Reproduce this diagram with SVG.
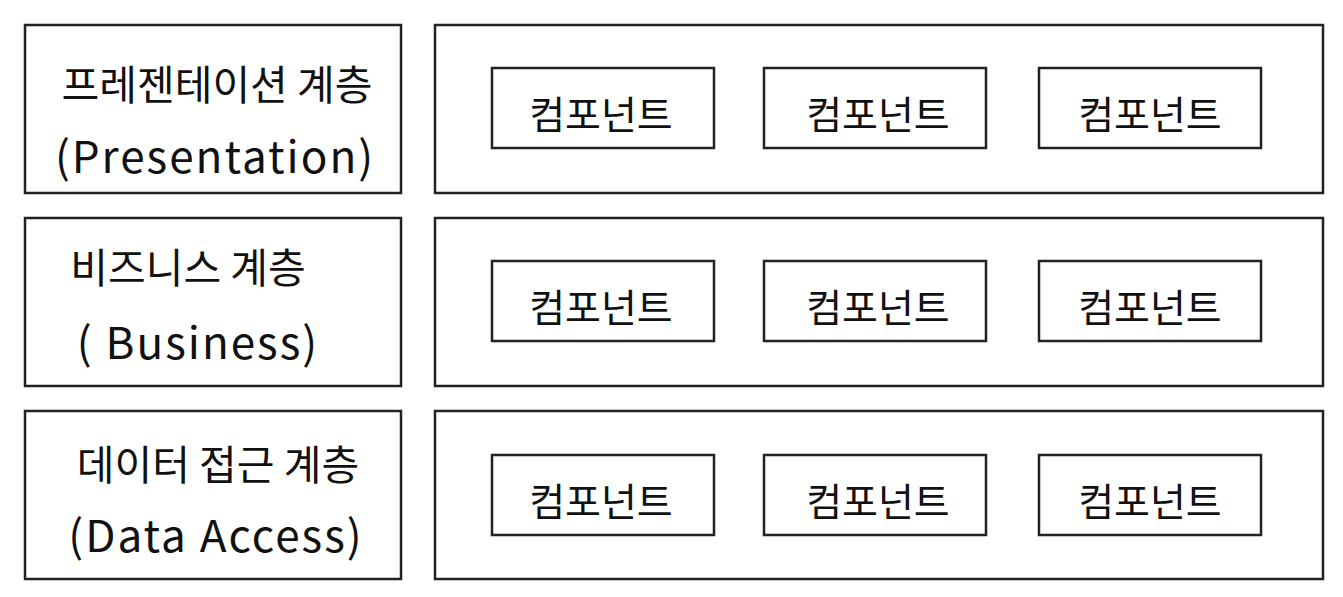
<svg xmlns="http://www.w3.org/2000/svg" width="1343" height="597" viewBox="0 0 1343 597">
<style>
.box{fill:#fff;stroke:#222;stroke-width:2.5}
.t{font-family:"Noto Sans CJK KR","Noto Sans",sans-serif;fill:#111;text-anchor:middle;dominant-baseline:central}
.k{font-size:41px}
.e{font-size:44px;letter-spacing:2px}
.c{font-size:39px}
</style>
<rect width="1343" height="597" fill="#fff"/>
<g id="layer-presentation">
<rect class="box" x="25" y="25" width="376" height="168"/>
<text class="t k" x="217" y="82">프레젠테이션 계층</text>
<text class="t e" x="215" y="154">(Presentation)</text>
</g>
<g id="layer-business">
<rect class="box" x="25" y="218" width="376" height="168"/>
<text class="t k" x="188" y="265">비즈니스 계층</text>
<text class="t e" x="198" y="340">( Business)</text>
</g>
<g id="layer-data">
<rect class="box" x="25" y="411" width="376" height="168"/>
<text class="t k" x="218" y="462">데이터 접근 계층</text>
<text class="t e" x="216" y="533">(Data  Access)</text>
</g>
<g id="row-presentation">
<rect class="box" x="435" y="25" width="888" height="168"/>
</g>
<g id="row-business">
<rect class="box" x="435" y="218" width="888" height="168"/>
</g>
<g id="row-data">
<rect class="box" x="435" y="411" width="888" height="168"/>
</g>
<g id="comp-1-1"><rect class="box" x="492" y="68" width="222" height="80"/><text class="t c" x="601" y="112">컴포넌트</text></g>
<g id="comp-1-2"><rect class="box" x="764" y="68" width="222" height="80"/><text class="t c" x="878" y="112">컴포넌트</text></g>
<g id="comp-1-3"><rect class="box" x="1039" y="68" width="222" height="80"/><text class="t c" x="1150" y="112">컴포넌트</text></g>
<g id="comp-2-1"><rect class="box" x="492" y="261" width="222" height="80"/><text class="t c" x="601" y="305">컴포넌트</text></g>
<g id="comp-2-2"><rect class="box" x="764" y="261" width="222" height="80"/><text class="t c" x="878" y="305">컴포넌트</text></g>
<g id="comp-2-3"><rect class="box" x="1039" y="261" width="222" height="80"/><text class="t c" x="1150" y="305">컴포넌트</text></g>
<g id="comp-3-1"><rect class="box" x="492" y="455" width="222" height="80"/><text class="t c" x="601" y="499">컴포넌트</text></g>
<g id="comp-3-2"><rect class="box" x="764" y="455" width="222" height="80"/><text class="t c" x="878" y="499">컴포넌트</text></g>
<g id="comp-3-3"><rect class="box" x="1039" y="455" width="222" height="80"/><text class="t c" x="1150" y="499">컴포넌트</text></g>
<g id="connectors"></g>
</svg>
